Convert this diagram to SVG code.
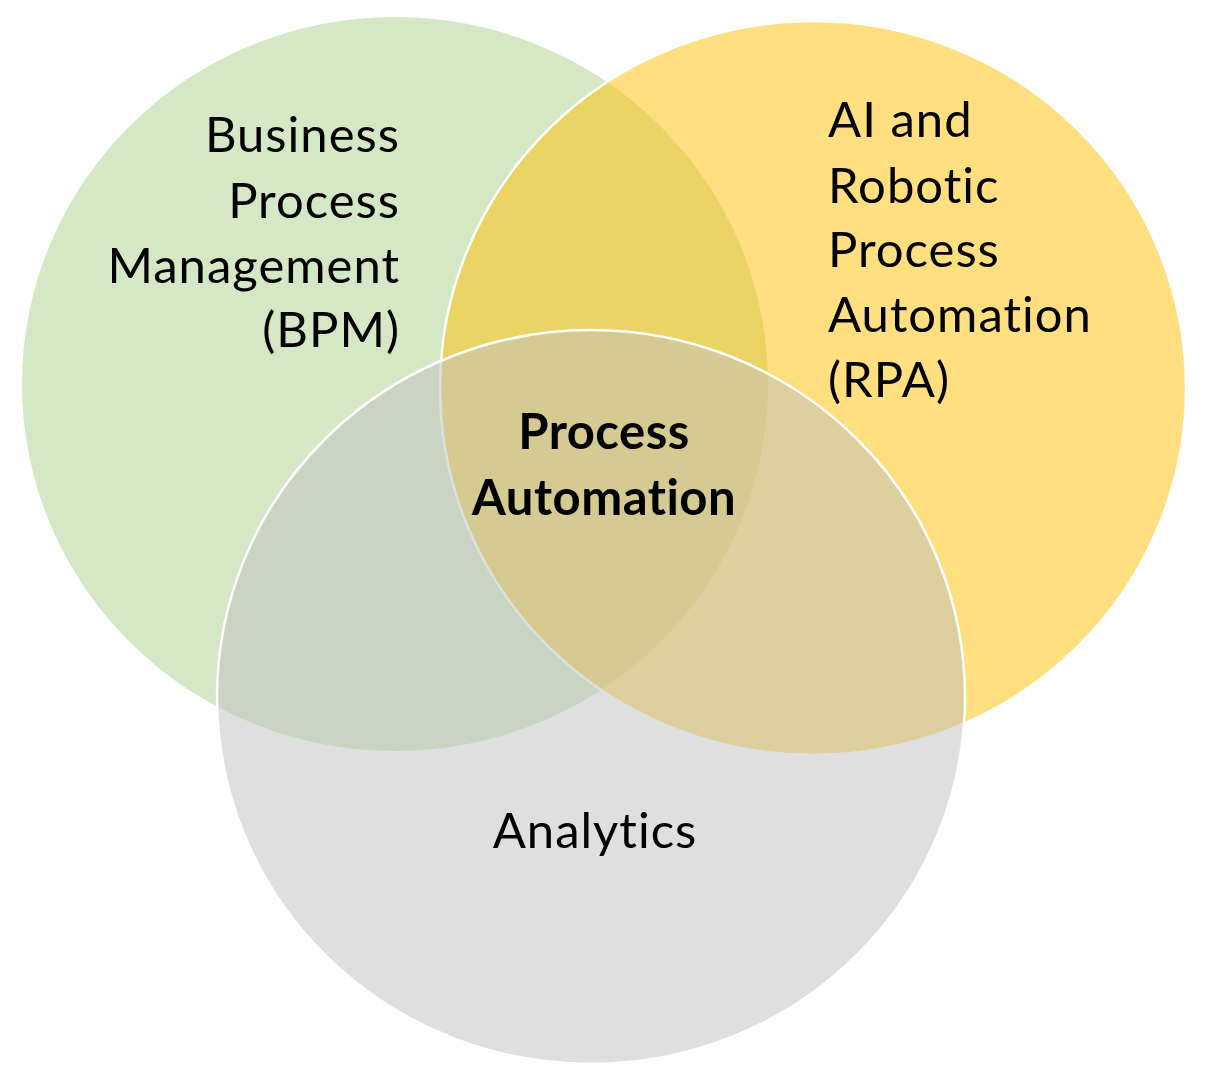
<svg xmlns="http://www.w3.org/2000/svg" width="1208" height="1084" viewBox="0 0 1208 1084">
<style>
.c{stroke:#FFFFFF;stroke-width:2.5}
.t{font-family:Lato,"Open Sans","Liberation Sans",sans-serif;font-size:49px;letter-spacing:1px;font-variant-ligatures:none;font-feature-settings:"liga" 0;fill:#000000}
.b{font-weight:bold;letter-spacing:0.5px}
</style>
<rect width="1208" height="1084" fill="#FFFFFF"/>
<g id="bpm">
<ellipse cx="395" cy="384" rx="373" ry="367" fill="#A9D18E" fill-opacity="0.5"/>
</g>
<g id="rpa">
<ellipse class="c" cx="813" cy="388" rx="373" ry="367" fill="#FFC000" fill-opacity="0.5"/>
</g>
<g id="analytics">
<ellipse class="c" cx="591" cy="697" rx="374" ry="367" fill="#BFBFBF" fill-opacity="0.5"/>
</g>
<g id="connectors"></g>
<g id="labels">
<text class="t" text-anchor="end" x="400" y="152">Business</text>
<text class="t" text-anchor="end" x="400" y="218">Process</text>
<text class="t" text-anchor="end" x="400" y="283">Management</text>
<text class="t" text-anchor="end" x="400" y="347">(BPM)</text>
<text class="t" x="828" y="137">AI and</text>
<text class="t" x="828" y="203">Robotic</text>
<text class="t" x="828" y="267">Process</text>
<text class="t" x="828" y="332">Automation</text>
<text class="t" x="828" y="397">(RPA)</text>
<text class="t b" text-anchor="middle" x="604" y="449">Process</text>
<text class="t b" text-anchor="middle" x="604" y="515">Automation</text>
<text class="t" text-anchor="middle" x="595" y="848">Analytics</text>
</g>
</svg>
